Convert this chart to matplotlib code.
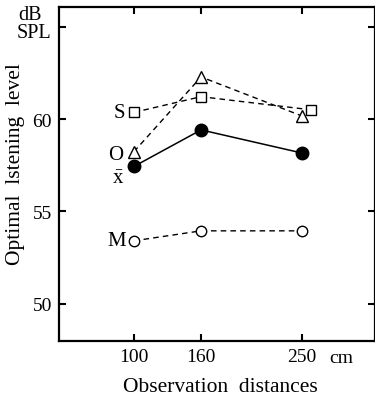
import matplotlib
matplotlib.use('Agg')
import matplotlib.pyplot as plt

plt.rcParams['font.family'] = 'Liberation Serif'
plt.rcParams['mathtext.fontset'] = 'custom'
plt.rcParams['mathtext.rm'] = 'Liberation Serif'

# --- Data ---
distances = [100, 160, 250]
s_dist = [100, 160, 258]  # S point at 250 is drawn slightly to the right
s_level = [60.36, 61.21, 60.50]
o_level = [58.23, 62.28, 60.17]
mean_level = [57.43, 59.41, 58.16]
m_level = [53.40, 53.94, 53.94]

y_ticks = [50, 55, 60, 65]
y_tick_labels = ['50', '55', '60', '']

fig = plt.figure(figsize=(3.75, 4.02), dpi=100)
ax = fig.add_axes([59 / 375, 1 - 342 / 402, (375 - 59) / 375, (342 - 8) / 402])

dash = (0, (4, 3))
ax.plot(s_dist, s_level, linestyle=dash, color='black', lw=1.0,
        marker='s', ms=7, mfc='white', mec='black', mew=1.0)
ax.plot(distances, o_level, linestyle=dash, color='black', lw=1.0,
        marker='^', ms=9, mfc='white', mec='black', mew=1.0)
ax.plot(distances, mean_level, linestyle='-', color='black', lw=1.1,
        marker='o', ms=9, mfc='black', mec='black')
ax.plot(distances, m_level, linestyle=dash, color='black', lw=1.0,
        marker='o', ms=7.5, mfc='white', mec='black', mew=1.0)

ax.set_xlim(33, 315.5)
ax.set_ylim(47.97, 66.07)
ax.set_xticks(distances)
ax.set_xticklabels([str(d) for d in distances])
ax.set_yticks(y_ticks)
ax.set_yticklabels(y_tick_labels)
ax.tick_params(direction='in', length=5, width=1.5, labelsize=14,
               top=True, right=True, pad=5)
for sp in ax.spines.values():
    sp.set_linewidth(1.6)

# series labels
lab = dict(fontsize=15, ha='right', va='center')
ax.text(92.5, s_level[0], 'S', **lab)
ax.text(90.5, 58.1, 'O', **lab)
ax.text(91, 56.75, r'$\bar{\mathrm{x}}$', fontsize=15, ha='right', va='center')
ax.text(92.5, m_level[0], 'M', **lab)

fig.text(341 / 375, 1 - 359 / 402, 'cm', fontsize=14, ha='center', va='center')
fig.text(18 / 375, 1 - 15 / 402, 'dB', fontsize=14.5, ha='left', va='center')
fig.text(17 / 375, 1 - 34 / 402, 'SPL', fontsize=14.5, ha='left', va='center')

fig.text(16 / 375, 1 - 164 / 402, 'Optimal  lstening  level', rotation=90,
         fontsize=15.5, ha='center', va='center')
fig.text(220 / 375, 1 - 388 / 402, 'Observation  distances',
         fontsize=15.5, ha='center', va='center')

fig.savefig('out.png', dpi=100, facecolor='white')
